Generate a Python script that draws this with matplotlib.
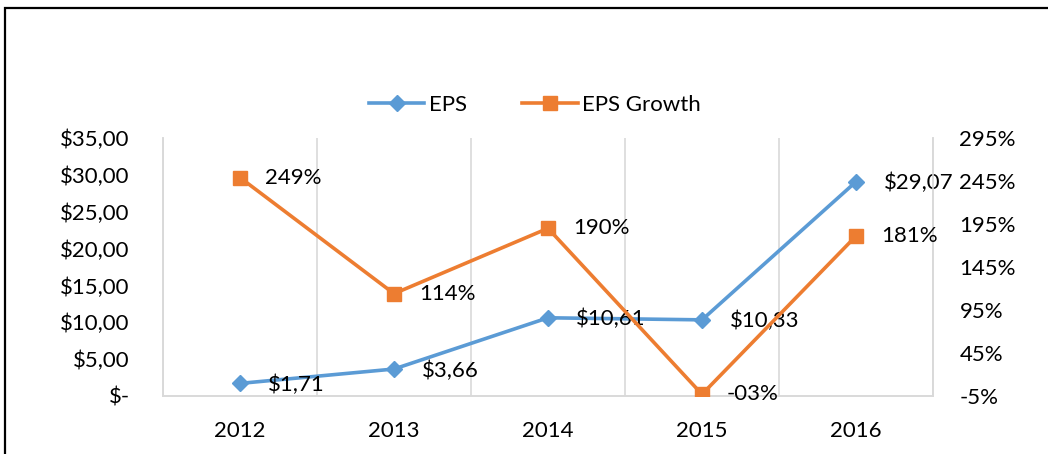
import numpy as np
import matplotlib.pyplot as plt
from matplotlib.patches import Rectangle

years = ['2012', '2013', '2014', '2015', '2016']
eps = [1.71, 3.66, 10.61, 10.33, 29.07]
eps_growth = [249, 114, 190, -3, 181]  # percent

blue = '#5B9BD5'
orange = '#ED7D31'
grid_col = '#D9D9D9'

plt.rcParams['font.family'] = ['Lato', 'DejaVu Sans']
fs = 16

W, H = 1048, 454
fig = plt.figure(figsize=(W / 100, H / 100), dpi=100)
ax = fig.add_axes([163 / W, 1 - 396 / H, 770 / W, 258 / H])
ax2 = ax.twinx()

x = np.arange(len(years))
ax.plot(x, eps, color=blue, lw=2.6, marker='D', ms=8, label='EPS', zorder=3)
ax2.plot(x, eps_growth, color=orange, lw=2.6, marker='s', ms=10, label='EPS Growth', zorder=3)

ax.set_xlim(-0.5, len(years) - 0.5)
ax.set_ylim(0, 35)
ax2.set_ylim(-5, 295)
ax.set_yticks(np.arange(0, 36, 5))
ax.set_yticklabels(['$-'] + [f'${v:.2f}'.replace('.', ',') for v in np.arange(5, 36, 5)])
ax2.set_yticks(np.arange(-5, 296, 50))
ax2.set_yticklabels([f'{v}%' for v in np.arange(-5, 296, 50)])
ax.set_xticks(x)
ax.set_xticklabels(years)
ax.set_xticks(np.arange(-0.5, len(years)), minor=True)
ax.grid(True, which='minor', axis='x', color=grid_col, lw=1.2)
ax.tick_params(axis='x', which='both', length=0, pad=18, labelsize=fs)
ax.tick_params(axis='y', length=0, pad=24, labelsize=fs)
ax2.tick_params(axis='y', length=0, pad=19, labelsize=fs)

for a in (ax, ax2):
    a.spines['top'].set_visible(False)
    for s in ('left', 'right', 'bottom'):
        a.spines[s].set_color(grid_col)
        a.spines[s].set_linewidth(1.2)

for xi, v in zip(x, eps):
    ax.annotate(f'${v:.2f}'.replace('.', ','), (xi, v), xytext=(20, -1), textcoords='offset points',
                va='center', ha='left', fontsize=fs, zorder=5)
for xi, v in zip(x, eps_growth):
    ax2.annotate(f'{v:03d}%', (xi, v), xytext=(18, 0), textcoords='offset points',
                 va='center', ha='left', fontsize=fs, zorder=5)

h1, l1 = ax.get_legend_handles_labels()
h2, l2 = ax2.get_legend_handles_labels()
fig.legend(h1 + h2, l1 + l2, loc='center', bbox_to_anchor=(535 / W, 1 - 105 / H), ncol=2,
           frameon=False, fontsize=fs, handlelength=2.5, columnspacing=2.5, handletextpad=0.2)

fig.patches.append(Rectangle((5 / W, -0.1), 1.2, (H - 8) / H + 0.1, transform=fig.transFigure,
                             fill=False, edgecolor='black', lw=1.6, zorder=0))

fig.savefig('out.png', dpi=100)
